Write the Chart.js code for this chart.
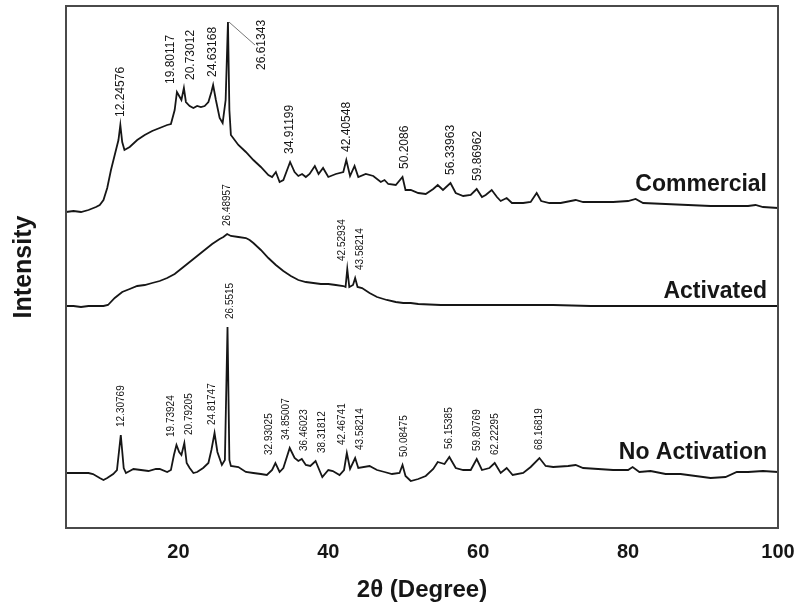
<!DOCTYPE html>
<html>
<head>
<meta charset="utf-8">
<script src="https://cdn.jsdelivr.net/npm/chart.js@4"></script>
<style>
  html, body { margin: 0; padding: 0; background: #fff; }
  #wrap { width: 795px; height: 606px; }
</style>
</head>
<body>
<div id="wrap"><canvas id="xrd"></canvas></div>
<script>
// 2-theta positions and intensities (arbitrary units, traces already offset)
const commercialX = [5, 6, 7, 8, 9, 9.5, 10, 10.5, 11, 11.5, 12, 12.25, 12.5, 12.8, 13.5, 14.5, 15.5, 16.5, 17.5, 18.5,
  19, 19.5, 19.8, 20.1, 20.4, 20.73, 21, 21.5, 22, 22.5, 23, 23.5, 24, 24.4, 24.63, 25, 25.5, 25.9, 26.3, 26.61,
  26.8, 27, 28, 29, 30, 31, 32, 32.5, 33, 33.5, 34, 34.9, 35.5, 36, 36.5, 37, 37.5, 38.2, 38.7, 39.3,
  40, 41, 42, 42.4, 42.9, 43.5, 44, 45, 46, 47, 47.5, 48, 49, 49.9, 50.3, 51, 52, 53, 54, 54.6,
  55.3, 56.3, 57, 58, 59, 59.8, 60.5, 61, 61.8, 62.5, 63, 63.8, 64.5, 66, 67, 67.8, 68.4, 69.5, 71, 73,
  74, 76, 78, 80, 81, 82, 85, 88, 91, 94, 96, 97, 98, 100];
const commercialY = [316, 317, 316, 318, 321, 323, 328, 340, 358, 373, 388, 403, 386, 378, 381, 388, 393, 397, 400, 403,
  404, 418, 436, 432, 428, 440, 426, 422, 420, 422, 421, 422, 426, 436, 443, 428, 410, 405, 428, 506,
  418, 393, 383, 376, 368, 361, 353, 351, 356, 346, 348, 366, 356, 352, 354, 351, 354, 362, 354, 360,
  351, 354, 356, 368, 352, 362, 351, 354, 352, 346, 348, 344, 343, 351, 338, 338, 335, 334, 339, 343,
  338, 345, 335, 332, 333, 339, 331, 333, 338, 331, 327, 330, 325, 325, 326, 335, 327, 325, 325, 328,
  326, 326, 326, 327, 329, 325, 324, 323, 322, 322, 322, 323, 321, 320];

const activatedX = [5, 6, 7, 8, 9, 10, 10.6, 11.5, 12.5, 13.5, 14.5, 15.5, 16.5, 17.5, 18.5, 19.5, 20.5, 21.5, 22.5, 23.5,
  24.5, 25.5, 26, 26.5, 27, 28, 29, 29.5, 30, 31, 32, 33, 34, 35, 36, 37, 38, 39, 40, 41,
  42, 42.3, 42.53, 42.8, 43.3, 43.58, 43.9, 44.5, 45.5, 46.5, 47.8, 49, 50, 51, 52, 55, 60, 65, 70, 75,
  80, 85, 90, 95, 100];
const activatedY = [222, 222, 221, 222, 222, 222, 223, 230, 236, 239, 242, 243, 245, 247, 250, 254, 260, 266, 272, 278,
  284, 289, 291, 294, 292, 291, 290, 288, 285, 278, 270, 263, 257, 252, 248, 246, 245, 244, 244, 243,
  242, 241, 259, 241, 243, 250, 241, 240, 235, 231, 228, 226, 225, 225, 224, 223, 223, 223, 223, 222,
  222, 222, 222, 222, 222];

const noActX = [5, 6, 7, 8, 8.6, 9.5, 10, 10.5, 11.3, 11.8, 12.31, 12.7, 13, 13.5, 14, 15, 16, 17, 17.5, 18.5,
  19, 19.4, 19.74, 20.1, 20.4, 20.79, 21.1, 21.5, 22, 22.5, 23.3, 24, 24.4, 24.82, 25.2, 25.8, 26.2, 26.55, 26.8, 27,
  28, 29, 30, 31, 31.8, 32.5, 32.94, 33.5, 34, 34.85, 35.5, 36, 36.46, 37, 37.6, 38.3, 38.8, 39.2, 40, 40.6,
  41.5, 42.1, 42.47, 42.9, 43.58, 44, 45.5, 46.5, 47.5, 48.5, 49.5, 49.9, 50.3, 51, 52, 53, 54, 54.6, 55.5, 56.15,
  57, 58, 59, 59.8, 60.5, 61.5, 62.2, 63, 63.8, 64.6, 66, 67, 68.17, 69, 70, 72, 73, 74, 76, 78,
  80, 80.6, 81.5, 83, 85, 87, 89, 91, 93, 94.5, 96, 98, 100];
const noActY = [55, 55, 55, 55, 54, 50, 48, 50, 54, 58, 93, 60, 55, 57, 59, 58, 57, 59, 59, 56,
  58, 73, 83, 76, 73, 85, 65, 60, 55, 56, 60, 65, 78, 95, 76, 63, 68, 201, 68, 62,
  61, 56, 55, 54, 53, 58, 65, 56, 60, 80, 70, 67, 69, 63, 62, 67, 58, 51, 58, 57,
  53, 58, 75, 59, 70, 60, 62, 58, 56, 54, 55, 63, 52, 47, 49, 52, 59, 66, 64, 71,
  60, 58, 58, 69, 58, 60, 65, 55, 60, 53, 55, 61, 70, 62, 61, 62, 63, 60, 59, 58,
  58, 61, 56, 57, 54, 54, 52, 50, 51, 56, 56, 57, 56];

const seriesNames = ['Commercial', 'Activated', 'No Activation'];
const commercialPeaks = ['12.24576', '19.80117', '20.73012', '24.63168', '26.61343', '34.91199', '42.40548', '50.2086', '56.33963', '59.86962'];
const activatedPeaks = ['26.48957', '42.52934', '43.58214'];
const noActPeaks = ['26.5515', '12.30769', '19.73924', '20.79205', '24.81747', '32.93025', '34.85007', '36.46023', '38.31812',
  '42.46741', '43.58214', '50.08475', '56.15385', '59.80769', '62.22295', '68.16819'];
const xTicks = [20, 40, 60, 80, 100];

function pts(xs, ys) {
  return xs.map((x, i) => ({ x: x, y: ys[i] }));
}

const ink = '#161616';

// peak labels, trace names, frame and axis titles
const xrdDecor = {
  id: 'xrdDecor',
  afterDatasetsDraw(chart, args, opts) {
    const ctx = chart.ctx;
    const xs = chart.scales.x, ys = chart.scales.y;
    const area = chart.chartArea;

    // highest point of a dataset between two 2-theta values, in pixels
    const topPx = (ds, a, b) => {
      let best = -Infinity;
      ds.data.forEach(p => { if (p.x >= a && p.x <= b && p.y > best) best = p.y; });
      return ys.getPixelForValue(best);
    };

    ctx.save();
    ctx.fillStyle = ink;
    ctx.strokeStyle = ink;

    opts.groups.forEach(g => {
      const ds = chart.data.datasets[g.dataset];
      ctx.font = g.size + 'px "Liberation Sans", Arial, sans-serif';
      const items = g.labels.map(t => {
        const v = parseFloat(t);
        return { t: t, v: v, px: xs.getPixelForValue(v), lead: t === g.leader };
      }).sort((a, b) => a.px - b.px);

      // spread neighbours that would overlap
      const free = items.filter(d => !d.lead);
      const gap = g.size + 8;
      for (let pass = 0; pass < 6; pass++) {
        for (let i = 1; i < free.length; i++) {
          const d = gap - (free[i].px - free[i - 1].px);
          if (d > 0) { free[i - 1].px -= d / 2; free[i].px += d / 2; }
        }
      }

      items.forEach(d => {
        const peakY = topPx(ds, d.v - 0.45, d.v + 0.45);
        let lx = d.px, ly = peakY - 8;
        if (d.lead) {
          const px0 = xs.getPixelForValue(d.v);
          lx = px0 + 34;
          ly = peakY + 48;
          ctx.lineWidth = 1;
          ctx.strokeStyle = '#777';
          ctx.beginPath();
          ctx.moveTo(px0 + 1, peakY);
          ctx.lineTo(lx - 7, peakY + 23);
          ctx.stroke();
          ctx.strokeStyle = ink;
        }
        ctx.save();
        ctx.translate(lx, ly);
        ctx.rotate(-Math.PI / 2);
        ctx.textAlign = 'left';
        ctx.textBaseline = 'middle';
        ctx.fillText(d.t, 0, 0);
        ctx.restore();
      });
    });

    // trace names on the right
    ctx.font = 'bold 23px "Liberation Sans", Arial, sans-serif';
    ctx.textAlign = 'right';
    ctx.textBaseline = 'alphabetic';
    chart.data.datasets.forEach(ds => {
      const right = area.right - 11;
      const w = ctx.measureText(ds.label).width;
      const top = topPx(ds, xs.getValueForPixel(right - w), xs.getValueForPixel(right));
      ctx.fillText(ds.label, right, top - 8);
    });

    // frame
    ctx.lineWidth = 2;
    ctx.strokeStyle = '#4a4a4a';
    ctx.strokeRect(area.left, area.top, area.right - area.left, area.bottom - area.top);

    // axis titles
    ctx.fillStyle = ink;
    ctx.font = 'bold 25px "Liberation Sans", Arial, sans-serif';
    ctx.textAlign = 'center';
    ctx.textBaseline = 'middle';
    ctx.save();
    ctx.translate(24, (area.top + area.bottom) / 2);
    ctx.rotate(-Math.PI / 2);
    ctx.fillText('Intensity', 0, 0);
    ctx.restore();
    ctx.font = 'bold 24px "Liberation Sans", Arial, sans-serif';
    ctx.fillText('2\u03b8 (Degree)', (area.left + area.right) / 2, 590);
    ctx.restore();
  }
};

const lineStyle = { borderColor: ink, borderWidth: 1.8, pointRadius: 0, showLine: true, tension: 0, fill: false };

new Chart(document.getElementById('xrd'), {
  type: 'scatter',
  data: {
    datasets: [
      Object.assign({ label: seriesNames[0], data: pts(commercialX, commercialY) }, lineStyle),
      Object.assign({ label: seriesNames[1], data: pts(activatedX, activatedY) }, lineStyle),
      Object.assign({ label: seriesNames[2], data: pts(noActX, noActY) }, lineStyle)
    ]
  },
  options: {
    responsive: true,
    maintainAspectRatio: false,
    animation: false,
    layout: { padding: { top: 6, right: 17, left: 0, bottom: 0 } },
    scales: {
      x: {
        type: 'linear',
        min: 5,
        max: 100,
        afterBuildTicks: s => { s.ticks = xTicks.map(v => ({ value: v })); },
        afterFit: s => { s.height = 78; s.paddingLeft = 0; s.paddingRight = 0; },
        grid: { display: false, drawTicks: false },
        border: { display: false },
        ticks: {
          autoSkip: false,
          maxRotation: 0,
          padding: 12,
          color: ink,
          font: { family: '"Liberation Sans", Arial, sans-serif', size: 20, weight: 'bold' }
        }
      },
      y: {
        min: 0,
        max: 522,
        afterFit: s => { s.width = 66; s.paddingTop = 0; s.paddingBottom = 0; },
        grid: { display: false, drawTicks: false },
        border: { display: false },
        ticks: { display: false }
      }
    },
    plugins: {
      legend: { display: false },
      tooltip: { enabled: false },
      xrdDecor: {
        groups: [
          { dataset: 0, labels: commercialPeaks, size: 12, leader: '26.61343' },
          { dataset: 1, labels: activatedPeaks, size: 10 },
          { dataset: 2, labels: noActPeaks, size: 10 }
        ]
      }
    }
  },
  plugins: [xrdDecor]
});
</script>
</body>
</html>
